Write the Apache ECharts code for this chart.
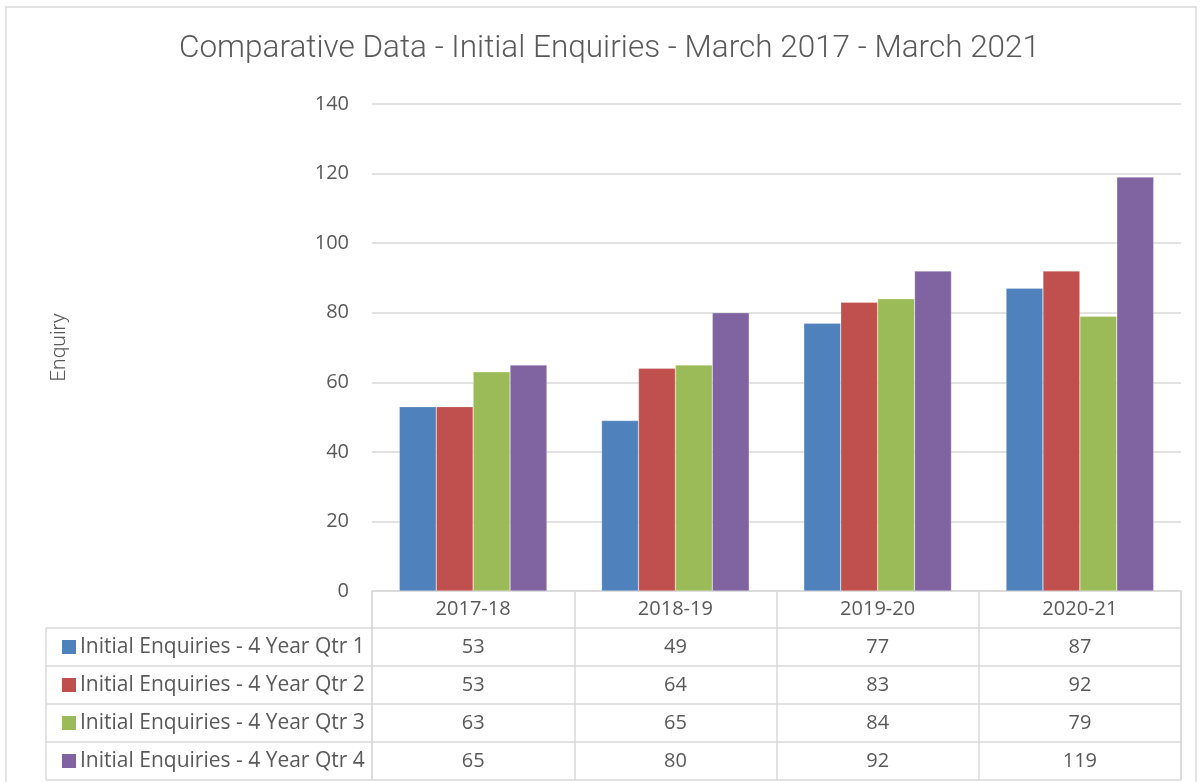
<!DOCTYPE html>
<html>
<head>
<meta charset="utf-8">
<script src="https://cdn.jsdelivr.net/npm/echarts@6/dist/echarts.min.js"></script>
<style>
html,body{margin:0;padding:0;background:#fff;}
#main{width:1203px;height:782px;}
</style>
</head>
<body>
<div id="main"></div>
<script>
const categories = ['2017-18', '2018-19', '2019-20', '2020-21'];
const seriesNames = [
  'Initial Enquiries - 4 Year Qtr 1',
  'Initial Enquiries - 4 Year Qtr 2',
  'Initial Enquiries - 4 Year Qtr 3',
  'Initial Enquiries - 4 Year Qtr 4'
];
const qtr1 = [53, 49, 77, 87];
const qtr2 = [53, 64, 83, 92];
const qtr3 = [63, 65, 84, 79];
const qtr4 = [65, 80, 92, 119];
const seriesValues = [qtr1, qtr2, qtr3, qtr4];
const colors = ['#4F81BD', '#C0504D', '#9BBB59', '#8064A2'];
const yMin = 0, yMax = 140, yInterval = 20;

const textColor = '#595959';
const lineColor = '#D9D9D9';
const rowH = 38;
const headerH = 37;
const tableLeft = 46;

const chart = echarts.init(document.getElementById('main'), null, {renderer: 'canvas'});

const option = {
  backgroundColor: '#fff',
  animation: false,
  title: {
    text: 'Comparative Data - Initial Enquiries - March 2017 - March 2021',
    left: 174,
    top: 28,
    textStyle: {fontFamily: 'Roboto', fontWeight: 300, fontSize: 31.5, color: textColor}
  },
  grid: {left: 372, right: 22, top: 104, bottom: 191, containLabel: false},
  xAxis: {
    type: 'category',
    data: categories,
    axisLine: {show: true, lineStyle: {color: lineColor, width: 1.5}},
    axisTick: {show: true, length: headerH + rowH * 4, lineStyle: {color: lineColor, width: 1.5}},
    axisLabel: {color: textColor, fontFamily: 'Open Sans', fontSize: 20, margin: 8}
  },
  yAxis: {
    type: 'value',
    min: yMin, max: yMax, interval: yInterval,
    name: 'Enquiry',
    nameLocation: 'middle',
    nameGap: 302,
    nameRotate: 90,
    nameTextStyle: {color: textColor, fontFamily: 'Roboto', fontWeight: 300, fontSize: 21},
    axisLine: {show: false},
    axisTick: {show: false},
    axisLabel: {color: textColor, fontFamily: 'Open Sans', fontSize: 20, margin: 23},
    splitLine: {lineStyle: {color: lineColor, width: 1.5}}
  },
  series: seriesValues.map((vals, i) => ({
    name: seriesNames[i],
    type: 'bar',
    data: vals,
    barGap: '0%',
    barCategoryGap: '27%',
    itemStyle: {color: colors[i], borderColor: 'rgba(255,255,255,0.5)', borderWidth: 0.5}
  }))
};
chart.setOption(option);

// Build the data table below the plot from the same arrays
const centers = categories.map(c => chart.convertToPixel({xAxisIndex: 0}, c));
const half = (centers[1] - centers[0]) / 2;
const plotLeft = centers[0] - half;
const plotRight = centers[centers.length - 1] + half;
const y0 = chart.convertToPixel({yAxisIndex: 0}, 0);
const tableTop = y0 + headerH;
const g = [
  {type: 'rect', silent: true, shape: {x: 6, y: 7, width: 1190, height: 800}, style: {fill: 'none', stroke: '#D9D9D9', lineWidth: 1.5}}
];
g.push({type: 'line', silent: true, shape: {x1: tableLeft, y1: tableTop, x2: tableLeft, y2: tableTop + rowH * 4}, style: {stroke: lineColor, lineWidth: 1.5}});
g.push({type: 'line', silent: true, shape: {x1: plotLeft, y1: y0, x2: plotLeft, y2: tableTop + rowH * 4}, style: {stroke: lineColor, lineWidth: 1.5}});
g.push({type: 'line', silent: true, shape: {x1: plotRight, y1: y0, x2: plotRight, y2: tableTop + rowH * 4}, style: {stroke: lineColor, lineWidth: 1.5}});
for (let r = 0; r <= 4; r++) {
  const yy = tableTop + rowH * r;
  g.push({type: 'line', silent: true, shape: {x1: tableLeft, y1: yy, x2: plotRight, y2: yy}, style: {stroke: lineColor, lineWidth: 1.5}});
}
seriesNames.forEach((name, r) => {
  const cy = tableTop + rowH * r + rowH / 2;
  g.push({type: 'rect', silent: true, shape: {x: 62, y: cy - 7, width: 14, height: 14}, style: {fill: colors[r]}});
  g.push({type: 'text', silent: true, x: 80, y: cy, style: {text: name, fill: textColor, font: '21px "Open Sans"', textAlign: 'left', textVerticalAlign: 'middle'}});
  seriesValues[r].forEach((v, c) => {
    g.push({type: 'text', silent: true, x: centers[c], y: cy, style: {text: String(v), fill: textColor, font: '20px "Open Sans"', textAlign: 'center', textVerticalAlign: 'middle'}});
  });
});
chart.setOption({graphic: g}, {replaceMerge: ['graphic']});
</script>
</body>
</html>
